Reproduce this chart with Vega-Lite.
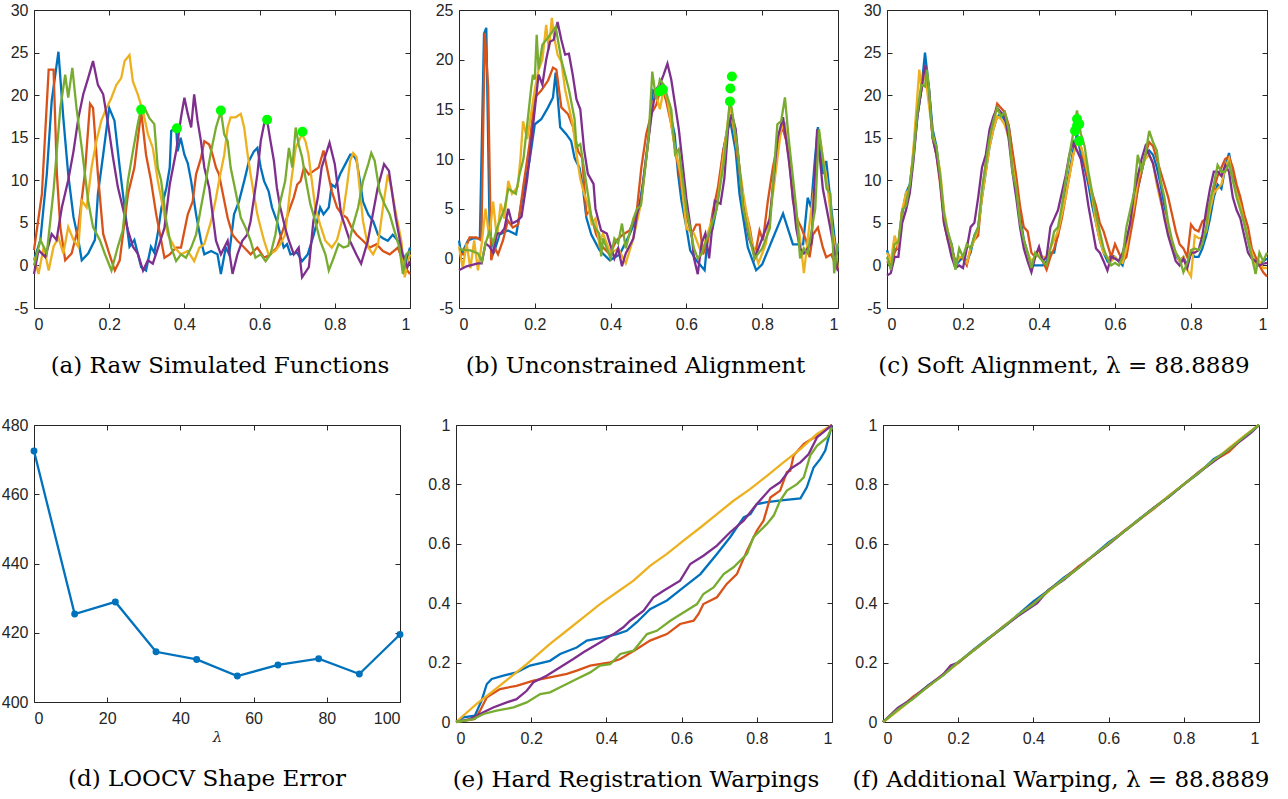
{
"$schema": "https://vega.github.io/schema/vega-lite/v6.json",
"padding": {"left": 0, "top": 1, "right": 0, "bottom": 0},
"config": {
  "view": {"stroke": "#262626", "strokeWidth": 1},
  "axis": {"grid": false, "domain": false, "labelFont": "Liberation Sans", "labelFontSize": 16, "labelColor": "#262626", "tickColor": "#262626", "tickSize": -5, "tickWidth": 1},
  "axisX": {"labelPadding": 13},
  "axisY": {"labelPadding": 11},
  "title": {"font": "DejaVu Serif", "fontSize": 23, "fontWeight": "normal", "color": "#000000"}
},
"datasets": {
"a": [
{"s":1,"x":0,"y":0.6},{"s":1,"x":0.017,"y":3},{"s":1,"x":0.034,"y":10.7},{"s":1,"x":0.047,"y":19.3},{"s":1,"x":0.065,"y":25.1},{"s":1,"x":0.078,"y":17.3},{"s":1,"x":0.091,"y":10.7},{"s":1,"x":0.105,"y":5.7},{"s":1,"x":0.118,"y":3},{"s":1,"x":0.127,"y":0.6},{"s":1,"x":0.144,"y":1.4},{"s":1,"x":0.162,"y":3},{"s":1,"x":0.17,"y":8.4},{"s":1,"x":0.184,"y":13},{"s":1,"x":0.2,"y":18.5},{"s":1,"x":0.214,"y":17},{"s":1,"x":0.228,"y":11.5},{"s":1,"x":0.241,"y":6.8},{"s":1,"x":0.254,"y":2.2},{"s":1,"x":0.267,"y":3},{"s":1,"x":0.285,"y":-0.2},{"s":1,"x":0.298,"y":-0.6},{"s":1,"x":0.311,"y":2.2},{"s":1,"x":0.32,"y":1.5},{"s":1,"x":0.33,"y":4},{"s":1,"x":0.339,"y":6.8},{"s":1,"x":0.352,"y":9.1},{"s":1,"x":0.361,"y":11.5},{"s":1,"x":0.365,"y":15.8},{"s":1,"x":0.378,"y":16.2},{"s":1,"x":0.382,"y":13.4},{"s":1,"x":0.39,"y":15},{"s":1,"x":0.4,"y":13},{"s":1,"x":0.409,"y":12},{"s":1,"x":0.418,"y":9.9},{"s":1,"x":0.431,"y":6},{"s":1,"x":0.444,"y":2.9},{"s":1,"x":0.453,"y":1.3},{"s":1,"x":0.471,"y":1.7},{"s":1,"x":0.488,"y":1.3},{"s":1,"x":0.497,"y":-1},{"s":1,"x":0.51,"y":2.1},{"s":1,"x":0.519,"y":1.3},{"s":1,"x":0.532,"y":6},{"s":1,"x":0.545,"y":7.5},{"s":1,"x":0.559,"y":9.9},{"s":1,"x":0.572,"y":12.3},{"s":1,"x":0.585,"y":13.4},{"s":1,"x":0.594,"y":13.8},{"s":1,"x":0.603,"y":11.5},{"s":1,"x":0.612,"y":9.9},{"s":1,"x":0.624,"y":8.7},{"s":1,"x":0.633,"y":6.8},{"s":1,"x":0.646,"y":5.2},{"s":1,"x":0.664,"y":2.1},{"s":1,"x":0.673,"y":2.5},{"s":1,"x":0.682,"y":1.3},{"s":1,"x":0.7,"y":1.5},{"s":1,"x":0.713,"y":0.5},{"s":1,"x":0.728,"y":1.3},{"s":1,"x":0.744,"y":3.6},{"s":1,"x":0.753,"y":5.2},{"s":1,"x":0.761,"y":6.8},{"s":1,"x":0.77,"y":6},{"s":1,"x":0.784,"y":6.8},{"s":1,"x":0.792,"y":9.5},{"s":1,"x":0.801,"y":9.2},{"s":1,"x":0.814,"y":10.7},{"s":1,"x":0.828,"y":11.9},{"s":1,"x":0.841,"y":13},{"s":1,"x":0.849,"y":13},{"s":1,"x":0.858,"y":12.3},{"s":1,"x":0.867,"y":9.9},{"s":1,"x":0.875,"y":7.5},{"s":1,"x":0.889,"y":6},{"s":1,"x":0.902,"y":5.2},{"s":1,"x":0.915,"y":3.6},{"s":1,"x":0.928,"y":3.2},{"s":1,"x":0.941,"y":2.9},{"s":1,"x":0.954,"y":3.6},{"s":1,"x":0.968,"y":2.9},{"s":1,"x":0.981,"y":1.3},{"s":1,"x":0.99,"y":0.5},{"s":1,"x":1,"y":2.1},
{"s":2,"x":0,"y":1.8},{"s":2,"x":0.021,"y":8.4},{"s":2,"x":0.039,"y":23},{"s":2,"x":0.052,"y":23},{"s":2,"x":0.061,"y":10.7},{"s":2,"x":0.07,"y":4.5},{"s":2,"x":0.083,"y":0.6},{"s":2,"x":0.1,"y":1.4},{"s":2,"x":0.118,"y":4.5},{"s":2,"x":0.135,"y":10.7},{"s":2,"x":0.149,"y":19},{"s":2,"x":0.157,"y":18.5},{"s":2,"x":0.17,"y":10.7},{"s":2,"x":0.184,"y":3.7},{"s":2,"x":0.2,"y":1.4},{"s":2,"x":0.215,"y":-0.6},{"s":2,"x":0.228,"y":0.6},{"s":2,"x":0.25,"y":8.4},{"s":2,"x":0.267,"y":11.5},{"s":2,"x":0.285,"y":18.1},{"s":2,"x":0.298,"y":13},{"s":2,"x":0.311,"y":10},{"s":2,"x":0.325,"y":6},{"s":2,"x":0.338,"y":3},{"s":2,"x":0.347,"y":0.9},{"s":2,"x":0.361,"y":1.3},{"s":2,"x":0.378,"y":2.1},{"s":2,"x":0.391,"y":2.1},{"s":2,"x":0.409,"y":6},{"s":2,"x":0.422,"y":7.5},{"s":2,"x":0.431,"y":10.7},{"s":2,"x":0.444,"y":12.6},{"s":2,"x":0.453,"y":14.6},{"s":2,"x":0.466,"y":14.2},{"s":2,"x":0.475,"y":13},{"s":2,"x":0.484,"y":11.5},{"s":2,"x":0.492,"y":10.7},{"s":2,"x":0.501,"y":8.7},{"s":2,"x":0.515,"y":5.6},{"s":2,"x":0.528,"y":3.6},{"s":2,"x":0.541,"y":2.9},{"s":2,"x":0.559,"y":2.1},{"s":2,"x":0.576,"y":1.3},{"s":2,"x":0.594,"y":2.1},{"s":2,"x":0.612,"y":0.9},{"s":2,"x":0.629,"y":1.3},{"s":2,"x":0.646,"y":2.1},{"s":2,"x":0.664,"y":4.4},{"s":2,"x":0.678,"y":6.4},{"s":2,"x":0.691,"y":8},{"s":2,"x":0.7,"y":9.5},{"s":2,"x":0.709,"y":9.9},{"s":2,"x":0.718,"y":11.5},{"s":2,"x":0.731,"y":10.7},{"s":2,"x":0.744,"y":11.1},{"s":2,"x":0.757,"y":11.5},{"s":2,"x":0.77,"y":13.5},{"s":2,"x":0.779,"y":11.5},{"s":2,"x":0.792,"y":8.7},{"s":2,"x":0.806,"y":6.8},{"s":2,"x":0.819,"y":6},{"s":2,"x":0.832,"y":5.6},{"s":2,"x":0.845,"y":4.4},{"s":2,"x":0.858,"y":3.6},{"s":2,"x":0.875,"y":2.9},{"s":2,"x":0.893,"y":2.1},{"s":2,"x":0.911,"y":2.5},{"s":2,"x":0.928,"y":1.7},{"s":2,"x":0.946,"y":1.3},{"s":2,"x":0.968,"y":2.1},{"s":2,"x":0.986,"y":-0.2},{"s":2,"x":1,"y":-1},
{"s":3,"x":0,"y":1},{"s":3,"x":0.012,"y":-1},{"s":3,"x":0.026,"y":2.2},{"s":3,"x":0.039,"y":-0.6},{"s":3,"x":0.052,"y":2.2},{"s":3,"x":0.065,"y":3.3},{"s":3,"x":0.078,"y":1.4},{"s":3,"x":0.091,"y":4.5},{"s":3,"x":0.105,"y":3},{"s":3,"x":0.118,"y":2.2},{"s":3,"x":0.127,"y":7.6},{"s":3,"x":0.14,"y":6.8},{"s":3,"x":0.153,"y":11.5},{"s":3,"x":0.166,"y":14.6},{"s":3,"x":0.179,"y":17},{"s":3,"x":0.193,"y":18.5},{"s":3,"x":0.206,"y":19.7},{"s":3,"x":0.219,"y":21.2},{"s":3,"x":0.232,"y":22},{"s":3,"x":0.241,"y":24},{"s":3,"x":0.254,"y":24.7},{"s":3,"x":0.263,"y":21.6},{"s":3,"x":0.276,"y":20.1},{"s":3,"x":0.29,"y":18.1},{"s":3,"x":0.303,"y":15.4},{"s":3,"x":0.316,"y":13.8},{"s":3,"x":0.329,"y":10},{"s":3,"x":0.343,"y":6.8},{"s":3,"x":0.356,"y":3.6},{"s":3,"x":0.374,"y":2.1},{"s":3,"x":0.391,"y":1.3},{"s":3,"x":0.409,"y":1.7},{"s":3,"x":0.426,"y":0.5},{"s":3,"x":0.44,"y":2.1},{"s":3,"x":0.453,"y":2.5},{"s":3,"x":0.471,"y":5.2},{"s":3,"x":0.484,"y":7.9},{"s":3,"x":0.492,"y":9.9},{"s":3,"x":0.506,"y":13},{"s":3,"x":0.515,"y":16.2},{"s":3,"x":0.523,"y":17.4},{"s":3,"x":0.536,"y":17.4},{"s":3,"x":0.55,"y":17.8},{"s":3,"x":0.559,"y":16.2},{"s":3,"x":0.567,"y":13.4},{"s":3,"x":0.576,"y":10.7},{"s":3,"x":0.585,"y":8.3},{"s":3,"x":0.594,"y":6},{"s":3,"x":0.603,"y":4.4},{"s":3,"x":0.612,"y":2.9},{"s":3,"x":0.624,"y":1.3},{"s":3,"x":0.642,"y":1.7},{"s":3,"x":0.655,"y":2.5},{"s":3,"x":0.668,"y":3.6},{"s":3,"x":0.682,"y":9.2},{"s":3,"x":0.696,"y":13.8},{"s":3,"x":0.704,"y":14.6},{"s":3,"x":0.713,"y":15.4},{"s":3,"x":0.722,"y":14.6},{"s":3,"x":0.73,"y":13},{"s":3,"x":0.739,"y":9.9},{"s":3,"x":0.748,"y":6.8},{"s":3,"x":0.761,"y":4.8},{"s":3,"x":0.775,"y":2.9},{"s":3,"x":0.792,"y":2.1},{"s":3,"x":0.806,"y":3},{"s":3,"x":0.819,"y":5.2},{"s":3,"x":0.832,"y":9.2},{"s":3,"x":0.841,"y":12.3},{"s":3,"x":0.849,"y":13.2},{"s":3,"x":0.858,"y":12.7},{"s":3,"x":0.867,"y":8.7},{"s":3,"x":0.875,"y":5.2},{"s":3,"x":0.889,"y":2.1},{"s":3,"x":0.902,"y":1.3},{"s":3,"x":0.915,"y":2.5},{"s":3,"x":0.928,"y":6.8},{"s":3,"x":0.941,"y":10.7},{"s":3,"x":0.95,"y":9.2},{"s":3,"x":0.963,"y":6},{"s":3,"x":0.977,"y":2.9},{"s":3,"x":0.986,"y":-1.4},{"s":3,"x":0.995,"y":0.5},{"s":3,"x":1,"y":1.3},
{"s":4,"x":0,"y":-1},{"s":4,"x":0.012,"y":1.8},{"s":4,"x":0.03,"y":1},{"s":4,"x":0.047,"y":3.7},{"s":4,"x":0.06,"y":3},{"s":4,"x":0.074,"y":6.8},{"s":4,"x":0.091,"y":10},{"s":4,"x":0.105,"y":13.4},{"s":4,"x":0.118,"y":17.3},{"s":4,"x":0.131,"y":20.1},{"s":4,"x":0.144,"y":22},{"s":4,"x":0.157,"y":24},{"s":4,"x":0.17,"y":21.2},{"s":4,"x":0.184,"y":20.1},{"s":4,"x":0.197,"y":16.6},{"s":4,"x":0.21,"y":12.7},{"s":4,"x":0.223,"y":9.2},{"s":4,"x":0.236,"y":6.8},{"s":4,"x":0.25,"y":4.1},{"s":4,"x":0.263,"y":2.2},{"s":4,"x":0.276,"y":1.4},{"s":4,"x":0.29,"y":-0.6},{"s":4,"x":0.303,"y":0.6},{"s":4,"x":0.316,"y":0.2},{"s":4,"x":0.33,"y":2.1},{"s":4,"x":0.347,"y":4.4},{"s":4,"x":0.361,"y":9.5},{"s":4,"x":0.378,"y":13.4},{"s":4,"x":0.391,"y":17.4},{"s":4,"x":0.4,"y":19.7},{"s":4,"x":0.409,"y":17.8},{"s":4,"x":0.418,"y":16.2},{"s":4,"x":0.426,"y":20.1},{"s":4,"x":0.435,"y":17},{"s":4,"x":0.444,"y":14.6},{"s":4,"x":0.453,"y":11.5},{"s":4,"x":0.466,"y":9.1},{"s":4,"x":0.475,"y":6},{"s":4,"x":0.484,"y":2.9},{"s":4,"x":0.497,"y":1.3},{"s":4,"x":0.515,"y":2.9},{"s":4,"x":0.528,"y":-1},{"s":4,"x":0.541,"y":1.3},{"s":4,"x":0.554,"y":2.9},{"s":4,"x":0.567,"y":3.6},{"s":4,"x":0.576,"y":5.2},{"s":4,"x":0.585,"y":7.9},{"s":4,"x":0.594,"y":10.7},{"s":4,"x":0.603,"y":14.6},{"s":4,"x":0.612,"y":16.6},{"s":4,"x":0.62,"y":17},{"s":4,"x":0.629,"y":14.6},{"s":4,"x":0.638,"y":12.3},{"s":4,"x":0.646,"y":9.1},{"s":4,"x":0.655,"y":6.8},{"s":4,"x":0.668,"y":4.4},{"s":4,"x":0.678,"y":2.9},{"s":4,"x":0.691,"y":1.3},{"s":4,"x":0.704,"y":2.1},{"s":4,"x":0.713,"y":-1.4},{"s":4,"x":0.731,"y":-0.2},{"s":4,"x":0.743,"y":5.2},{"s":4,"x":0.755,"y":8},{"s":4,"x":0.765,"y":11.5},{"s":4,"x":0.786,"y":14.4},{"s":4,"x":0.8,"y":11.9},{"s":4,"x":0.817,"y":6},{"s":4,"x":0.84,"y":2.9},{"s":4,"x":0.857,"y":1.3},{"s":4,"x":0.87,"y":0.2},{"s":4,"x":0.888,"y":2.9},{"s":4,"x":0.914,"y":9.1},{"s":4,"x":0.931,"y":11.9},{"s":4,"x":0.944,"y":11.1},{"s":4,"x":0.962,"y":5.6},{"s":4,"x":0.98,"y":1.3},{"s":4,"x":0.993,"y":-0.2},{"s":4,"x":1,"y":0.5},
{"s":5,"x":0,"y":0},{"s":5,"x":0.017,"y":3},{"s":5,"x":0.034,"y":1.4},{"s":5,"x":0.052,"y":8.8},{"s":5,"x":0.07,"y":18.5},{"s":5,"x":0.083,"y":22.4},{"s":5,"x":0.091,"y":19.7},{"s":5,"x":0.102,"y":23.2},{"s":5,"x":0.113,"y":18.5},{"s":5,"x":0.127,"y":13.8},{"s":5,"x":0.144,"y":7.6},{"s":5,"x":0.157,"y":4.5},{"s":5,"x":0.175,"y":3},{"s":5,"x":0.188,"y":1.4},{"s":5,"x":0.206,"y":-0.6},{"s":5,"x":0.223,"y":2.2},{"s":5,"x":0.236,"y":4.1},{"s":5,"x":0.25,"y":10},{"s":5,"x":0.263,"y":13.4},{"s":5,"x":0.276,"y":16.6},{"s":5,"x":0.285,"y":18.5},{"s":5,"x":0.294,"y":18.5},{"s":5,"x":0.307,"y":17.3},{"s":5,"x":0.32,"y":16.6},{"s":5,"x":0.329,"y":11.5},{"s":5,"x":0.338,"y":10},{"s":5,"x":0.343,"y":8.3},{"s":5,"x":0.352,"y":5.2},{"s":5,"x":0.365,"y":2.1},{"s":5,"x":0.378,"y":0.5},{"s":5,"x":0.391,"y":1.3},{"s":5,"x":0.404,"y":0.9},{"s":5,"x":0.418,"y":2.1},{"s":5,"x":0.431,"y":3.6},{"s":5,"x":0.444,"y":6.8},{"s":5,"x":0.457,"y":9.9},{"s":5,"x":0.471,"y":13.4},{"s":5,"x":0.484,"y":16.2},{"s":5,"x":0.497,"y":18.1},{"s":5,"x":0.506,"y":15.4},{"s":5,"x":0.515,"y":14.6},{"s":5,"x":0.523,"y":11.5},{"s":5,"x":0.536,"y":8.7},{"s":5,"x":0.55,"y":5.6},{"s":5,"x":0.563,"y":4.4},{"s":5,"x":0.576,"y":2.9},{"s":5,"x":0.589,"y":0.9},{"s":5,"x":0.603,"y":1.3},{"s":5,"x":0.616,"y":0.5},{"s":5,"x":0.629,"y":1.3},{"s":5,"x":0.642,"y":3.6},{"s":5,"x":0.655,"y":7.5},{"s":5,"x":0.668,"y":9.9},{"s":5,"x":0.678,"y":13.8},{"s":5,"x":0.687,"y":11.5},{"s":5,"x":0.696,"y":16.2},{"s":5,"x":0.704,"y":14.2},{"s":5,"x":0.713,"y":12.7},{"s":5,"x":0.722,"y":10.3},{"s":5,"x":0.735,"y":7.2},{"s":5,"x":0.748,"y":5.2},{"s":5,"x":0.761,"y":2.9},{"s":5,"x":0.775,"y":1.3},{"s":5,"x":0.784,"y":-0.6},{"s":5,"x":0.797,"y":0.9},{"s":5,"x":0.81,"y":2.5},{"s":5,"x":0.823,"y":2.1},{"s":5,"x":0.836,"y":2.3},{"s":5,"x":0.849,"y":4.8},{"s":5,"x":0.862,"y":6.8},{"s":5,"x":0.875,"y":9.9},{"s":5,"x":0.889,"y":11.9},{"s":5,"x":0.897,"y":13.2},{"s":5,"x":0.906,"y":12.3},{"s":5,"x":0.919,"y":8.7},{"s":5,"x":0.932,"y":7.2},{"s":5,"x":0.946,"y":6},{"s":5,"x":0.959,"y":4},{"s":5,"x":0.972,"y":2.1},{"s":5,"x":0.981,"y":-1},{"s":5,"x":0.99,"y":1.3},{"s":5,"x":1,"y":1.7}
],
"adots": [{"x":0.285,"y":18.3},{"x":0.38,"y":16.1},{"x":0.497,"y":18.2},{"x":0.62,"y":17.1},{"x":0.714,"y":15.7}],
"b": [
{"s":1,"x":0,"y":1.8},{"s":1,"x":0.006,"y":0.4},{"s":1,"x":0.024,"y":1.8},{"s":1,"x":0.037,"y":2},{"s":1,"x":0.055,"y":2},{"s":1,"x":0.066,"y":22.6},{"s":1,"x":0.072,"y":23.2},{"s":1,"x":0.081,"y":2.4},{"s":1,"x":0.094,"y":0.8},{"s":1,"x":0.107,"y":2.4},{"s":1,"x":0.129,"y":2.8},{"s":1,"x":0.151,"y":2.4},{"s":1,"x":0.169,"y":6.5},{"s":1,"x":0.186,"y":9.8},{"s":1,"x":0.2,"y":13.5},{"s":1,"x":0.217,"y":14},{"s":1,"x":0.235,"y":15.2},{"s":1,"x":0.248,"y":16.2},{"s":1,"x":0.255,"y":18.7},{"s":1,"x":0.267,"y":13.2},{"s":1,"x":0.283,"y":12.5},{"s":1,"x":0.296,"y":11.8},{"s":1,"x":0.305,"y":10.1},{"s":1,"x":0.318,"y":9.1},{"s":1,"x":0.327,"y":7.1},{"s":1,"x":0.336,"y":4.1},{"s":1,"x":0.349,"y":2.4},{"s":1,"x":0.371,"y":0.8},{"s":1,"x":0.398,"y":-0.2},{"s":1,"x":0.424,"y":0.4},{"s":1,"x":0.45,"y":2.4},{"s":1,"x":0.472,"y":4.4},{"s":1,"x":0.485,"y":7.5},{"s":1,"x":0.499,"y":11.8},{"s":1,"x":0.512,"y":16.9},{"s":1,"x":0.525,"y":16.5},{"s":1,"x":0.538,"y":17.2},{"s":1,"x":0.556,"y":14.8},{"s":1,"x":0.569,"y":12.5},{"s":1,"x":0.578,"y":8.5},{"s":1,"x":0.587,"y":5.8},{"s":1,"x":0.6,"y":3.1},{"s":1,"x":0.61,"y":0.8},{"s":1,"x":0.626,"y":-0.2},{"s":1,"x":0.648,"y":-1.2},{"s":1,"x":0.657,"y":2.4},{"s":1,"x":0.668,"y":2.8},{"s":1,"x":0.68,"y":5.1},{"s":1,"x":0.697,"y":10.8},{"s":1,"x":0.714,"y":14.2},{"s":1,"x":0.73,"y":10.8},{"s":1,"x":0.74,"y":6.5},{"s":1,"x":0.762,"y":1.1},{"s":1,"x":0.784,"y":-1.2},{"s":1,"x":0.8,"y":-0.6},{"s":1,"x":0.855,"y":4.5},{"s":1,"x":0.881,"y":1.4},{"s":1,"x":0.908,"y":1.4},{"s":1,"x":0.92,"y":6.1},{"s":1,"x":0.929,"y":5.1},{"s":1,"x":0.938,"y":9.5},{"s":1,"x":0.947,"y":13.2},{"s":1,"x":0.96,"y":8.5},{"s":1,"x":0.969,"y":9.8},{"s":1,"x":0.982,"y":5.1},{"s":1,"x":0.996,"y":0.4},{"s":1,"x":1,"y":1},
{"s":2,"x":0,"y":0.5},{"s":2,"x":0.011,"y":0.4},{"s":2,"x":0.028,"y":2.1},{"s":2,"x":0.046,"y":2.1},{"s":2,"x":0.059,"y":1.8},{"s":2,"x":0.068,"y":22.7},{"s":2,"x":0.077,"y":17.2},{"s":2,"x":0.085,"y":-0.2},{"s":2,"x":0.094,"y":1.1},{"s":2,"x":0.103,"y":0.4},{"s":2,"x":0.116,"y":1.8},{"s":2,"x":0.129,"y":3.8},{"s":2,"x":0.142,"y":3.1},{"s":2,"x":0.156,"y":3.4},{"s":2,"x":0.169,"y":7.1},{"s":2,"x":0.186,"y":11.5},{"s":2,"x":0.2,"y":16.2},{"s":2,"x":0.217,"y":16.9},{"s":2,"x":0.235,"y":17.9},{"s":2,"x":0.248,"y":19.2},{"s":2,"x":0.257,"y":19},{"s":2,"x":0.27,"y":15.2},{"s":2,"x":0.288,"y":14.5},{"s":2,"x":0.301,"y":13.2},{"s":2,"x":0.314,"y":10.8},{"s":2,"x":0.325,"y":10.1},{"s":2,"x":0.336,"y":4.4},{"s":2,"x":0.345,"y":4.8},{"s":2,"x":0.362,"y":2.4},{"s":2,"x":0.38,"y":1.1},{"s":2,"x":0.398,"y":0.4},{"s":2,"x":0.415,"y":1.8},{"s":2,"x":0.433,"y":2.4},{"s":2,"x":0.45,"y":2.8},{"s":2,"x":0.468,"y":4.4},{"s":2,"x":0.481,"y":9.1},{"s":2,"x":0.494,"y":12.5},{"s":2,"x":0.507,"y":14.5},{"s":2,"x":0.521,"y":15.5},{"s":2,"x":0.534,"y":17.5},{"s":2,"x":0.547,"y":15.8},{"s":2,"x":0.56,"y":13.5},{"s":2,"x":0.573,"y":10.5},{"s":2,"x":0.587,"y":7.1},{"s":2,"x":0.6,"y":4.4},{"s":2,"x":0.613,"y":2.4},{"s":2,"x":0.626,"y":3.4},{"s":2,"x":0.635,"y":3.4},{"s":2,"x":0.644,"y":0.4},{"s":2,"x":0.657,"y":1.8},{"s":2,"x":0.67,"y":4.8},{"s":2,"x":0.683,"y":7.1},{"s":2,"x":0.697,"y":10.8},{"s":2,"x":0.71,"y":13.2},{"s":2,"x":0.719,"y":14.5},{"s":2,"x":0.727,"y":12.5},{"s":2,"x":0.741,"y":8.5},{"s":2,"x":0.754,"y":5.1},{"s":2,"x":0.767,"y":3.1},{"s":2,"x":0.78,"y":0.1},{"s":2,"x":0.793,"y":2.8},{"s":2,"x":0.802,"y":1.8},{"s":2,"x":0.815,"y":5.8},{"s":2,"x":0.828,"y":9.1},{"s":2,"x":0.842,"y":11.8},{"s":2,"x":0.853,"y":13.2},{"s":2,"x":0.864,"y":11.8},{"s":2,"x":0.872,"y":9.8},{"s":2,"x":0.881,"y":5.8},{"s":2,"x":0.894,"y":3.8},{"s":2,"x":0.903,"y":3.1},{"s":2,"x":0.916,"y":1.8},{"s":2,"x":0.925,"y":0.1},{"s":2,"x":0.934,"y":2.4},{"s":2,"x":0.947,"y":3.1},{"s":2,"x":0.96,"y":1.1},{"s":2,"x":0.969,"y":0.1},{"s":2,"x":0.982,"y":0.4},{"s":2,"x":1,"y":-1.2},
{"s":3,"x":0,"y":1.2},{"s":3,"x":0.01,"y":-1},{"s":3,"x":0.02,"y":1.5},{"s":3,"x":0.03,"y":-1},{"s":3,"x":0.04,"y":1.8},{"s":3,"x":0.05,"y":-1.2},{"s":3,"x":0.06,"y":1.5},{"s":3,"x":0.07,"y":5},{"s":3,"x":0.08,"y":2},{"s":3,"x":0.09,"y":5.7},{"s":3,"x":0.1,"y":2},{"s":3,"x":0.11,"y":5.5},{"s":3,"x":0.12,"y":4},{"s":3,"x":0.13,"y":7.8},{"s":3,"x":0.14,"y":6.5},{"s":3,"x":0.155,"y":7.2},{"s":3,"x":0.162,"y":10},{"s":3,"x":0.169,"y":13.8},{"s":3,"x":0.18,"y":12},{"s":3,"x":0.2,"y":17},{"s":3,"x":0.21,"y":19},{"s":3,"x":0.22,"y":20},{"s":3,"x":0.23,"y":23.5},{"s":3,"x":0.237,"y":21},{"s":3,"x":0.245,"y":24.2},{"s":3,"x":0.25,"y":22.5},{"s":3,"x":0.26,"y":20.5},{"s":3,"x":0.27,"y":19.8},{"s":3,"x":0.28,"y":17},{"s":3,"x":0.3,"y":13.5},{"s":3,"x":0.31,"y":10.5},{"s":3,"x":0.32,"y":8},{"s":3,"x":0.33,"y":6.5},{"s":3,"x":0.34,"y":5.5},{"s":3,"x":0.35,"y":3.5},{"s":3,"x":0.36,"y":4},{"s":3,"x":0.37,"y":1.5},{"s":3,"x":0.38,"y":2.5},{"s":3,"x":0.4,"y":0.5},{"s":3,"x":0.42,"y":1},{"s":3,"x":0.44,"y":-0.5},{"s":3,"x":0.46,"y":2},{"s":3,"x":0.48,"y":5.5},{"s":3,"x":0.5,"y":12},{"s":3,"x":0.51,"y":15.5},{"s":3,"x":0.52,"y":16.5},{"s":3,"x":0.53,"y":15},{"s":3,"x":0.54,"y":17},{"s":3,"x":0.55,"y":16},{"s":3,"x":0.57,"y":11},{"s":3,"x":0.585,"y":8.5},{"s":3,"x":0.6,"y":3},{"s":3,"x":0.62,"y":2.5},{"s":3,"x":0.64,"y":0.5},{"s":3,"x":0.66,"y":3},{"s":3,"x":0.68,"y":5},{"s":3,"x":0.7,"y":11},{"s":3,"x":0.715,"y":15.5},{"s":3,"x":0.73,"y":12},{"s":3,"x":0.75,"y":6.5},{"s":3,"x":0.77,"y":2},{"s":3,"x":0.79,"y":-0.5},{"s":3,"x":0.81,"y":1.5},{"s":3,"x":0.83,"y":7},{"s":3,"x":0.85,"y":13},{"s":3,"x":0.86,"y":13.5},{"s":3,"x":0.87,"y":10},{"s":3,"x":0.89,"y":4.5},{"s":3,"x":0.9,"y":2},{"s":3,"x":0.91,"y":-1.5},{"s":3,"x":0.925,"y":3.5},{"s":3,"x":0.94,"y":8},{"s":3,"x":0.95,"y":12.5},{"s":3,"x":0.97,"y":8},{"s":3,"x":0.985,"y":3},{"s":3,"x":1,"y":-1},
{"s":4,"x":0,"y":-1.2},{"s":4,"x":0.02,"y":-0.8},{"s":4,"x":0.05,"y":-0.5},{"s":4,"x":0.06,"y":-0.5},{"s":4,"x":0.07,"y":1.5},{"s":4,"x":0.08,"y":1.2},{"s":4,"x":0.09,"y":0.6},{"s":4,"x":0.1,"y":2.5},{"s":4,"x":0.11,"y":2.5},{"s":4,"x":0.12,"y":3},{"s":4,"x":0.13,"y":5},{"s":4,"x":0.14,"y":3.5},{"s":4,"x":0.155,"y":3.8},{"s":4,"x":0.165,"y":4.2},{"s":4,"x":0.18,"y":8},{"s":4,"x":0.2,"y":15},{"s":4,"x":0.21,"y":18.5},{"s":4,"x":0.22,"y":17.5},{"s":4,"x":0.23,"y":20},{"s":4,"x":0.24,"y":21.8},{"s":4,"x":0.25,"y":22},{"s":4,"x":0.26,"y":23.8},{"s":4,"x":0.27,"y":22},{"s":4,"x":0.28,"y":20.5},{"s":4,"x":0.29,"y":20.6},{"s":4,"x":0.3,"y":18.5},{"s":4,"x":0.31,"y":16},{"s":4,"x":0.32,"y":15},{"s":4,"x":0.33,"y":11},{"s":4,"x":0.34,"y":8.5},{"s":4,"x":0.355,"y":7.5},{"s":4,"x":0.36,"y":5},{"s":4,"x":0.37,"y":3.5},{"s":4,"x":0.375,"y":2.8},{"s":4,"x":0.39,"y":2.5},{"s":4,"x":0.41,"y":0},{"s":4,"x":0.42,"y":1},{"s":4,"x":0.43,"y":-0.8},{"s":4,"x":0.44,"y":0.5},{"s":4,"x":0.46,"y":2},{"s":4,"x":0.47,"y":4.5},{"s":4,"x":0.48,"y":5.8},{"s":4,"x":0.5,"y":12},{"s":4,"x":0.51,"y":15},{"s":4,"x":0.52,"y":17},{"s":4,"x":0.53,"y":17.5},{"s":4,"x":0.54,"y":18.5},{"s":4,"x":0.55,"y":19.6},{"s":4,"x":0.56,"y":18},{"s":4,"x":0.58,"y":13},{"s":4,"x":0.6,"y":6},{"s":4,"x":0.615,"y":2},{"s":4,"x":0.62,"y":0},{"s":4,"x":0.63,"y":-1.6},{"s":4,"x":0.64,"y":1.5},{"s":4,"x":0.65,"y":2.5},{"s":4,"x":0.66,"y":0},{"s":4,"x":0.675,"y":5.8},{"s":4,"x":0.69,"y":5.5},{"s":4,"x":0.7,"y":8},{"s":4,"x":0.71,"y":13},{"s":4,"x":0.72,"y":14.5},{"s":4,"x":0.73,"y":13},{"s":4,"x":0.74,"y":9},{"s":4,"x":0.75,"y":5},{"s":4,"x":0.765,"y":2},{"s":4,"x":0.775,"y":1},{"s":4,"x":0.78,"y":0},{"s":4,"x":0.8,"y":2},{"s":4,"x":0.82,"y":4},{"s":4,"x":0.84,"y":12},{"s":4,"x":0.855,"y":14.2},{"s":4,"x":0.87,"y":10},{"s":4,"x":0.89,"y":3},{"s":4,"x":0.9,"y":1},{"s":4,"x":0.91,"y":0.5},{"s":4,"x":0.93,"y":1.5},{"s":4,"x":0.945,"y":13},{"s":4,"x":0.96,"y":7},{"s":4,"x":0.98,"y":3},{"s":4,"x":1,"y":-1.3},
{"s":5,"x":0,"y":0.9},{"s":5,"x":0.03,"y":0.8},{"s":5,"x":0.05,"y":0.5},{"s":5,"x":0.06,"y":-0.3},{"s":5,"x":0.07,"y":1.5},{"s":5,"x":0.08,"y":2.7},{"s":5,"x":0.09,"y":1.5},{"s":5,"x":0.1,"y":3},{"s":5,"x":0.12,"y":5},{"s":5,"x":0.13,"y":7},{"s":5,"x":0.15,"y":6.5},{"s":5,"x":0.16,"y":8.5},{"s":5,"x":0.17,"y":10},{"s":5,"x":0.19,"y":17},{"s":5,"x":0.195,"y":18.5},{"s":5,"x":0.2,"y":18},{"s":5,"x":0.205,"y":22.5},{"s":5,"x":0.21,"y":19},{"s":5,"x":0.22,"y":21.5},{"s":5,"x":0.24,"y":22.5},{"s":5,"x":0.255,"y":23.3},{"s":5,"x":0.27,"y":20},{"s":5,"x":0.29,"y":17},{"s":5,"x":0.305,"y":14},{"s":5,"x":0.31,"y":11.2},{"s":5,"x":0.32,"y":11.5},{"s":5,"x":0.33,"y":9},{"s":5,"x":0.34,"y":6.5},{"s":5,"x":0.35,"y":4},{"s":5,"x":0.36,"y":3},{"s":5,"x":0.37,"y":2.5},{"s":5,"x":0.375,"y":0.2},{"s":5,"x":0.38,"y":2},{"s":5,"x":0.39,"y":1},{"s":5,"x":0.4,"y":0},{"s":5,"x":0.41,"y":2},{"s":5,"x":0.42,"y":1.5},{"s":5,"x":0.43,"y":3.5},{"s":5,"x":0.44,"y":1},{"s":5,"x":0.46,"y":4},{"s":5,"x":0.47,"y":5},{"s":5,"x":0.48,"y":5.3},{"s":5,"x":0.5,"y":12},{"s":5,"x":0.51,"y":18.8},{"s":5,"x":0.52,"y":16},{"s":5,"x":0.53,"y":18},{"s":5,"x":0.54,"y":17.5},{"s":5,"x":0.56,"y":15},{"s":5,"x":0.57,"y":10.5},{"s":5,"x":0.58,"y":11},{"s":5,"x":0.59,"y":8},{"s":5,"x":0.6,"y":5},{"s":5,"x":0.61,"y":3},{"s":5,"x":0.62,"y":1},{"s":5,"x":0.63,"y":0},{"s":5,"x":0.64,"y":0.5},{"s":5,"x":0.66,"y":2.5},{"s":5,"x":0.68,"y":5},{"s":5,"x":0.7,"y":10},{"s":5,"x":0.715,"y":16},{"s":5,"x":0.72,"y":15},{"s":5,"x":0.735,"y":11},{"s":5,"x":0.75,"y":5},{"s":5,"x":0.77,"y":1.5},{"s":5,"x":0.78,"y":0},{"s":5,"x":0.8,"y":1},{"s":5,"x":0.82,"y":3},{"s":5,"x":0.84,"y":13.5},{"s":5,"x":0.85,"y":13.8},{"s":5,"x":0.86,"y":16.2},{"s":5,"x":0.87,"y":12},{"s":5,"x":0.89,"y":5},{"s":5,"x":0.9,"y":0},{"s":5,"x":0.91,"y":1},{"s":5,"x":0.92,"y":0.5},{"s":5,"x":0.94,"y":5},{"s":5,"x":0.95,"y":13},{"s":5,"x":0.96,"y":10},{"s":5,"x":0.97,"y":7},{"s":5,"x":0.98,"y":6.5},{"s":5,"x":0.99,"y":-1.5},{"s":5,"x":1,"y":1.5}
],
"bdots": [{"x":0.53,"y":16.8},{"x":0.538,"y":17.0},{"x":0.72,"y":18.3},{"x":0.716,"y":17.1},{"x":0.715,"y":15.8}],
"c": [
{"s":1,"x":0,"y":1.8},{"s":1,"x":0.01,"y":0.3},{"s":1,"x":0.02,"y":1.8},{"s":1,"x":0.03,"y":2},{"s":1,"x":0.04,"y":6},{"s":1,"x":0.05,"y":8.5},{"s":1,"x":0.06,"y":9.5},{"s":1,"x":0.07,"y":13},{"s":1,"x":0.08,"y":17.5},{"s":1,"x":0.09,"y":20.5},{"s":1,"x":0.1,"y":25},{"s":1,"x":0.11,"y":21},{"s":1,"x":0.12,"y":16},{"s":1,"x":0.13,"y":14},{"s":1,"x":0.14,"y":10},{"s":1,"x":0.15,"y":6},{"s":1,"x":0.16,"y":3.5},{"s":1,"x":0.17,"y":2.5},{"s":1,"x":0.18,"y":0},{"s":1,"x":0.19,"y":0.5},{"s":1,"x":0.2,"y":1},{"s":1,"x":0.21,"y":0.5},{"s":1,"x":0.22,"y":1.5},{"s":1,"x":0.23,"y":3.5},{"s":1,"x":0.24,"y":4.5},{"s":1,"x":0.25,"y":8},{"s":1,"x":0.26,"y":11},{"s":1,"x":0.27,"y":14},{"s":1,"x":0.28,"y":16},{"s":1,"x":0.29,"y":17.5},{"s":1,"x":0.3,"y":17.8},{"s":1,"x":0.31,"y":17},{"s":1,"x":0.32,"y":16.5},{"s":1,"x":0.33,"y":13},{"s":1,"x":0.34,"y":10},{"s":1,"x":0.35,"y":6},{"s":1,"x":0.36,"y":3},{"s":1,"x":0.37,"y":1.5},{"s":1,"x":0.38,"y":0},{"s":1,"x":0.39,"y":0},{"s":1,"x":0.4,"y":0},{"s":1,"x":0.41,"y":0},{"s":1,"x":0.42,"y":0.5},{"s":1,"x":0.43,"y":1.5},{"s":1,"x":0.44,"y":1.5},{"s":1,"x":0.45,"y":4},{"s":1,"x":0.46,"y":6},{"s":1,"x":0.47,"y":8.5},{"s":1,"x":0.48,"y":11},{"s":1,"x":0.49,"y":13.5},{"s":1,"x":0.5,"y":15.5},{"s":1,"x":0.51,"y":13},{"s":1,"x":0.52,"y":11.5},{"s":1,"x":0.53,"y":9.5},{"s":1,"x":0.54,"y":7},{"s":1,"x":0.55,"y":5},{"s":1,"x":0.56,"y":3},{"s":1,"x":0.57,"y":1.5},{"s":1,"x":0.58,"y":0.5},{"s":1,"x":0.59,"y":1.2},{"s":1,"x":0.6,"y":1},{"s":1,"x":0.61,"y":0.5},{"s":1,"x":0.62,"y":0},{"s":1,"x":0.63,"y":2},{"s":1,"x":0.64,"y":4},{"s":1,"x":0.65,"y":6.5},{"s":1,"x":0.66,"y":9},{"s":1,"x":0.67,"y":11},{"s":1,"x":0.68,"y":13},{"s":1,"x":0.69,"y":13.5},{"s":1,"x":0.7,"y":13},{"s":1,"x":0.71,"y":11.5},{"s":1,"x":0.72,"y":9.5},{"s":1,"x":0.73,"y":7},{"s":1,"x":0.74,"y":4.5},{"s":1,"x":0.75,"y":2.5},{"s":1,"x":0.76,"y":1.2},{"s":1,"x":0.77,"y":0.5},{"s":1,"x":0.78,"y":1},{"s":1,"x":0.79,"y":0},{"s":1,"x":0.8,"y":1.5},{"s":1,"x":0.81,"y":1},{"s":1,"x":0.82,"y":1},{"s":1,"x":0.83,"y":2},{"s":1,"x":0.84,"y":3.5},{"s":1,"x":0.85,"y":5.5},{"s":1,"x":0.86,"y":8},{"s":1,"x":0.87,"y":9.5},{"s":1,"x":0.88,"y":9},{"s":1,"x":0.89,"y":11.5},{"s":1,"x":0.9,"y":13.2},{"s":1,"x":0.91,"y":10.5},{"s":1,"x":0.92,"y":9},{"s":1,"x":0.93,"y":7},{"s":1,"x":0.94,"y":5},{"s":1,"x":0.95,"y":3},{"s":1,"x":0.96,"y":1},{"s":1,"x":0.97,"y":0.5},{"s":1,"x":0.98,"y":0},{"s":1,"x":0.99,"y":0.5},{"s":1,"x":1,"y":0.8},
{"s":2,"x":0,"y":0.5},{"s":2,"x":0.01,"y":0},{"s":2,"x":0.02,"y":1.5},{"s":2,"x":0.03,"y":2.5},{"s":2,"x":0.04,"y":6.5},{"s":2,"x":0.05,"y":7.5},{"s":2,"x":0.06,"y":9},{"s":2,"x":0.07,"y":13.5},{"s":2,"x":0.08,"y":18},{"s":2,"x":0.09,"y":20.5},{"s":2,"x":0.1,"y":23.5},{"s":2,"x":0.11,"y":20},{"s":2,"x":0.12,"y":15},{"s":2,"x":0.13,"y":13},{"s":2,"x":0.14,"y":9.5},{"s":2,"x":0.15,"y":5},{"s":2,"x":0.16,"y":3},{"s":2,"x":0.17,"y":2},{"s":2,"x":0.18,"y":0.5},{"s":2,"x":0.19,"y":1},{"s":2,"x":0.2,"y":0.8},{"s":2,"x":0.21,"y":0},{"s":2,"x":0.22,"y":2},{"s":2,"x":0.23,"y":3},{"s":2,"x":0.24,"y":3.5},{"s":2,"x":0.25,"y":8.5},{"s":2,"x":0.26,"y":12},{"s":2,"x":0.27,"y":15},{"s":2,"x":0.28,"y":17},{"s":2,"x":0.29,"y":19},{"s":2,"x":0.3,"y":18.5},{"s":2,"x":0.31,"y":18},{"s":2,"x":0.32,"y":16.5},{"s":2,"x":0.33,"y":13.5},{"s":2,"x":0.34,"y":10.5},{"s":2,"x":0.35,"y":7},{"s":2,"x":0.36,"y":4.5},{"s":2,"x":0.37,"y":4},{"s":2,"x":0.38,"y":1.5},{"s":2,"x":0.39,"y":1},{"s":2,"x":0.4,"y":2},{"s":2,"x":0.41,"y":0.5},{"s":2,"x":0.42,"y":-0.5},{"s":2,"x":0.43,"y":1},{"s":2,"x":0.44,"y":2},{"s":2,"x":0.45,"y":3.5},{"s":2,"x":0.46,"y":5.5},{"s":2,"x":0.47,"y":8},{"s":2,"x":0.48,"y":10.5},{"s":2,"x":0.49,"y":13},{"s":2,"x":0.5,"y":14.5},{"s":2,"x":0.51,"y":14},{"s":2,"x":0.52,"y":12},{"s":2,"x":0.53,"y":10},{"s":2,"x":0.54,"y":8.5},{"s":2,"x":0.55,"y":7},{"s":2,"x":0.56,"y":5},{"s":2,"x":0.57,"y":4},{"s":2,"x":0.58,"y":2.5},{"s":2,"x":0.59,"y":1},{"s":2,"x":0.6,"y":2.5},{"s":2,"x":0.61,"y":1.5},{"s":2,"x":0.62,"y":0.5},{"s":2,"x":0.63,"y":1},{"s":2,"x":0.64,"y":3.5},{"s":2,"x":0.65,"y":6},{"s":2,"x":0.66,"y":9},{"s":2,"x":0.67,"y":11},{"s":2,"x":0.68,"y":13},{"s":2,"x":0.69,"y":14.5},{"s":2,"x":0.7,"y":14},{"s":2,"x":0.71,"y":12.5},{"s":2,"x":0.72,"y":11},{"s":2,"x":0.73,"y":9.5},{"s":2,"x":0.74,"y":8},{"s":2,"x":0.75,"y":6},{"s":2,"x":0.76,"y":4},{"s":2,"x":0.77,"y":2.5},{"s":2,"x":0.78,"y":2},{"s":2,"x":0.79,"y":1},{"s":2,"x":0.8,"y":4.8},{"s":2,"x":0.81,"y":4.2},{"s":2,"x":0.82,"y":4},{"s":2,"x":0.83,"y":5.2},{"s":2,"x":0.84,"y":5.5},{"s":2,"x":0.85,"y":7.5},{"s":2,"x":0.86,"y":9},{"s":2,"x":0.87,"y":10.5},{"s":2,"x":0.88,"y":11.5},{"s":2,"x":0.89,"y":12.5},{"s":2,"x":0.9,"y":12.8},{"s":2,"x":0.91,"y":11.5},{"s":2,"x":0.92,"y":9.5},{"s":2,"x":0.93,"y":8},{"s":2,"x":0.94,"y":6},{"s":2,"x":0.95,"y":4.5},{"s":2,"x":0.96,"y":2},{"s":2,"x":0.97,"y":1},{"s":2,"x":0.98,"y":0},{"s":2,"x":0.99,"y":-0.8},{"s":2,"x":1,"y":-1.3},
{"s":3,"x":0,"y":1.5},{"s":3,"x":0.01,"y":0.5},{"s":3,"x":0.02,"y":3.5},{"s":3,"x":0.03,"y":2},{"s":3,"x":0.04,"y":6.5},{"s":3,"x":0.05,"y":8.5},{"s":3,"x":0.06,"y":9},{"s":3,"x":0.07,"y":14},{"s":3,"x":0.08,"y":20},{"s":3,"x":0.085,"y":23},{"s":3,"x":0.09,"y":21},{"s":3,"x":0.1,"y":22.5},{"s":3,"x":0.11,"y":19},{"s":3,"x":0.12,"y":15.5},{"s":3,"x":0.13,"y":13.5},{"s":3,"x":0.14,"y":11},{"s":3,"x":0.15,"y":6.5},{"s":3,"x":0.16,"y":4},{"s":3,"x":0.17,"y":2},{"s":3,"x":0.18,"y":0},{"s":3,"x":0.19,"y":1},{"s":3,"x":0.2,"y":1},{"s":3,"x":0.21,"y":0.3},{"s":3,"x":0.22,"y":2},{"s":3,"x":0.23,"y":3},{"s":3,"x":0.24,"y":4.5},{"s":3,"x":0.25,"y":8},{"s":3,"x":0.26,"y":11},{"s":3,"x":0.27,"y":14},{"s":3,"x":0.28,"y":16},{"s":3,"x":0.29,"y":17.5},{"s":3,"x":0.3,"y":17.2},{"s":3,"x":0.31,"y":16.5},{"s":3,"x":0.32,"y":15},{"s":3,"x":0.33,"y":12},{"s":3,"x":0.34,"y":9},{"s":3,"x":0.35,"y":5},{"s":3,"x":0.36,"y":2.5},{"s":3,"x":0.37,"y":1.5},{"s":3,"x":0.38,"y":0.5},{"s":3,"x":0.39,"y":1},{"s":3,"x":0.4,"y":1.3},{"s":3,"x":0.41,"y":1},{"s":3,"x":0.42,"y":1},{"s":3,"x":0.43,"y":2},{"s":3,"x":0.44,"y":3},{"s":3,"x":0.45,"y":4},{"s":3,"x":0.46,"y":6},{"s":3,"x":0.47,"y":8},{"s":3,"x":0.48,"y":10.5},{"s":3,"x":0.49,"y":13},{"s":3,"x":0.5,"y":14.5},{"s":3,"x":0.51,"y":14},{"s":3,"x":0.52,"y":12.5},{"s":3,"x":0.53,"y":10.5},{"s":3,"x":0.54,"y":8},{"s":3,"x":0.55,"y":5},{"s":3,"x":0.56,"y":3},{"s":3,"x":0.57,"y":1.5},{"s":3,"x":0.58,"y":1},{"s":3,"x":0.59,"y":0.5},{"s":3,"x":0.6,"y":1},{"s":3,"x":0.61,"y":0.5},{"s":3,"x":0.62,"y":0.3},{"s":3,"x":0.63,"y":2},{"s":3,"x":0.64,"y":5},{"s":3,"x":0.65,"y":7},{"s":3,"x":0.66,"y":10},{"s":3,"x":0.67,"y":11.5},{"s":3,"x":0.68,"y":12.5},{"s":3,"x":0.69,"y":13},{"s":3,"x":0.7,"y":12},{"s":3,"x":0.71,"y":9.5},{"s":3,"x":0.72,"y":7.5},{"s":3,"x":0.73,"y":6},{"s":3,"x":0.74,"y":4},{"s":3,"x":0.75,"y":2.5},{"s":3,"x":0.76,"y":1.5},{"s":3,"x":0.77,"y":0.5},{"s":3,"x":0.78,"y":1},{"s":3,"x":0.79,"y":-0.5},{"s":3,"x":0.8,"y":-1.3},{"s":3,"x":0.81,"y":3.5},{"s":3,"x":0.82,"y":3.2},{"s":3,"x":0.83,"y":3.2},{"s":3,"x":0.84,"y":4},{"s":3,"x":0.85,"y":6.5},{"s":3,"x":0.86,"y":8.5},{"s":3,"x":0.87,"y":9},{"s":3,"x":0.88,"y":9.5},{"s":3,"x":0.89,"y":11.5},{"s":3,"x":0.9,"y":12.5},{"s":3,"x":0.91,"y":10},{"s":3,"x":0.92,"y":8.5},{"s":3,"x":0.93,"y":7},{"s":3,"x":0.94,"y":5},{"s":3,"x":0.95,"y":3},{"s":3,"x":0.96,"y":1.5},{"s":3,"x":0.97,"y":0},{"s":3,"x":0.98,"y":0.5},{"s":3,"x":0.99,"y":-0.3},{"s":3,"x":1,"y":-0.3},
{"s":4,"x":0,"y":-1.2},{"s":4,"x":0.01,"y":-0.9},{"s":4,"x":0.02,"y":1},{"s":4,"x":0.03,"y":1},{"s":4,"x":0.04,"y":5},{"s":4,"x":0.05,"y":6.5},{"s":4,"x":0.06,"y":8.5},{"s":4,"x":0.07,"y":12.5},{"s":4,"x":0.08,"y":17.5},{"s":4,"x":0.09,"y":20.5},{"s":4,"x":0.1,"y":23.5},{"s":4,"x":0.11,"y":21},{"s":4,"x":0.12,"y":15},{"s":4,"x":0.13,"y":13},{"s":4,"x":0.14,"y":10},{"s":4,"x":0.15,"y":5},{"s":4,"x":0.16,"y":3},{"s":4,"x":0.17,"y":1},{"s":4,"x":0.18,"y":-0.3},{"s":4,"x":0.19,"y":0},{"s":4,"x":0.2,"y":-0.3},{"s":4,"x":0.21,"y":2},{"s":4,"x":0.22,"y":4.5},{"s":4,"x":0.23,"y":5},{"s":4,"x":0.24,"y":8},{"s":4,"x":0.25,"y":11.5},{"s":4,"x":0.26,"y":13},{"s":4,"x":0.27,"y":16},{"s":4,"x":0.28,"y":17.5},{"s":4,"x":0.29,"y":18.5},{"s":4,"x":0.3,"y":18},{"s":4,"x":0.31,"y":17.5},{"s":4,"x":0.32,"y":15},{"s":4,"x":0.33,"y":11},{"s":4,"x":0.34,"y":8},{"s":4,"x":0.35,"y":4.5},{"s":4,"x":0.36,"y":2},{"s":4,"x":0.37,"y":0.5},{"s":4,"x":0.38,"y":-0.8},{"s":4,"x":0.39,"y":1},{"s":4,"x":0.4,"y":2.2},{"s":4,"x":0.41,"y":0.5},{"s":4,"x":0.42,"y":1},{"s":4,"x":0.43,"y":4.5},{"s":4,"x":0.44,"y":5.5},{"s":4,"x":0.45,"y":6.5},{"s":4,"x":0.46,"y":8.5},{"s":4,"x":0.47,"y":10.5},{"s":4,"x":0.48,"y":13},{"s":4,"x":0.49,"y":14.5},{"s":4,"x":0.5,"y":13.5},{"s":4,"x":0.51,"y":12.5},{"s":4,"x":0.52,"y":10},{"s":4,"x":0.53,"y":7},{"s":4,"x":0.54,"y":4.5},{"s":4,"x":0.55,"y":2},{"s":4,"x":0.56,"y":1.5},{"s":4,"x":0.57,"y":0.5},{"s":4,"x":0.58,"y":-0.6},{"s":4,"x":0.59,"y":1},{"s":4,"x":0.6,"y":0.8},{"s":4,"x":0.61,"y":0.5},{"s":4,"x":0.62,"y":1.5},{"s":4,"x":0.63,"y":3},{"s":4,"x":0.64,"y":5},{"s":4,"x":0.65,"y":8.5},{"s":4,"x":0.66,"y":10.5},{"s":4,"x":0.67,"y":12.5},{"s":4,"x":0.68,"y":14},{"s":4,"x":0.69,"y":13},{"s":4,"x":0.7,"y":12},{"s":4,"x":0.71,"y":10},{"s":4,"x":0.72,"y":8},{"s":4,"x":0.73,"y":5.5},{"s":4,"x":0.74,"y":3.5},{"s":4,"x":0.75,"y":2},{"s":4,"x":0.76,"y":0.5},{"s":4,"x":0.77,"y":0},{"s":4,"x":0.78,"y":0.8},{"s":4,"x":0.79,"y":-0.3},{"s":4,"x":0.8,"y":1.5},{"s":4,"x":0.81,"y":1.5},{"s":4,"x":0.82,"y":1.8},{"s":4,"x":0.83,"y":3.5},{"s":4,"x":0.84,"y":6.5},{"s":4,"x":0.85,"y":9},{"s":4,"x":0.86,"y":11},{"s":4,"x":0.87,"y":11},{"s":4,"x":0.88,"y":10.5},{"s":4,"x":0.89,"y":11.8},{"s":4,"x":0.9,"y":11},{"s":4,"x":0.91,"y":8},{"s":4,"x":0.92,"y":6.5},{"s":4,"x":0.93,"y":5.5},{"s":4,"x":0.94,"y":3.5},{"s":4,"x":0.95,"y":1.5},{"s":4,"x":0.96,"y":0.8},{"s":4,"x":0.97,"y":0.5},{"s":4,"x":0.98,"y":0},{"s":4,"x":0.99,"y":0.2},{"s":4,"x":1,"y":0.3},
{"s":5,"x":0,"y":1},{"s":5,"x":0.01,"y":-0.5},{"s":5,"x":0.02,"y":2.5},{"s":5,"x":0.03,"y":2.8},{"s":5,"x":0.04,"y":6.5},{"s":5,"x":0.05,"y":7},{"s":5,"x":0.06,"y":9.5},{"s":5,"x":0.07,"y":13},{"s":5,"x":0.08,"y":18},{"s":5,"x":0.09,"y":21.2},{"s":5,"x":0.1,"y":21},{"s":5,"x":0.105,"y":23},{"s":5,"x":0.11,"y":21},{"s":5,"x":0.12,"y":15},{"s":5,"x":0.13,"y":14},{"s":5,"x":0.14,"y":10.5},{"s":5,"x":0.15,"y":6},{"s":5,"x":0.16,"y":4},{"s":5,"x":0.17,"y":2.5},{"s":5,"x":0.18,"y":-0.5},{"s":5,"x":0.19,"y":2},{"s":5,"x":0.2,"y":1},{"s":5,"x":0.21,"y":2.5},{"s":5,"x":0.22,"y":2},{"s":5,"x":0.23,"y":3.5},{"s":5,"x":0.24,"y":4.5},{"s":5,"x":0.25,"y":9},{"s":5,"x":0.26,"y":12},{"s":5,"x":0.27,"y":15},{"s":5,"x":0.28,"y":17},{"s":5,"x":0.29,"y":18.5},{"s":5,"x":0.3,"y":17.5},{"s":5,"x":0.31,"y":18},{"s":5,"x":0.32,"y":16},{"s":5,"x":0.33,"y":11},{"s":5,"x":0.34,"y":9},{"s":5,"x":0.35,"y":5},{"s":5,"x":0.36,"y":3},{"s":5,"x":0.37,"y":1.5},{"s":5,"x":0.38,"y":-0.3},{"s":5,"x":0.39,"y":1.5},{"s":5,"x":0.4,"y":1},{"s":5,"x":0.41,"y":0.5},{"s":5,"x":0.42,"y":0},{"s":5,"x":0.43,"y":2},{"s":5,"x":0.44,"y":4},{"s":5,"x":0.45,"y":4.5},{"s":5,"x":0.46,"y":7},{"s":5,"x":0.47,"y":10},{"s":5,"x":0.48,"y":13},{"s":5,"x":0.49,"y":15.5},{"s":5,"x":0.5,"y":18.2},{"s":5,"x":0.51,"y":15.5},{"s":5,"x":0.52,"y":14},{"s":5,"x":0.53,"y":11},{"s":5,"x":0.54,"y":8.5},{"s":5,"x":0.55,"y":6},{"s":5,"x":0.56,"y":4},{"s":5,"x":0.57,"y":2},{"s":5,"x":0.58,"y":0.8},{"s":5,"x":0.59,"y":0},{"s":5,"x":0.6,"y":0.3},{"s":5,"x":0.61,"y":0},{"s":5,"x":0.62,"y":1},{"s":5,"x":0.63,"y":4.5},{"s":5,"x":0.64,"y":6.5},{"s":5,"x":0.65,"y":8.5},{"s":5,"x":0.66,"y":13},{"s":5,"x":0.67,"y":11},{"s":5,"x":0.68,"y":13},{"s":5,"x":0.69,"y":15.8},{"s":5,"x":0.7,"y":14.5},{"s":5,"x":0.71,"y":13.5},{"s":5,"x":0.72,"y":10},{"s":5,"x":0.73,"y":8},{"s":5,"x":0.74,"y":5},{"s":5,"x":0.75,"y":3},{"s":5,"x":0.76,"y":1.5},{"s":5,"x":0.77,"y":0.8},{"s":5,"x":0.78,"y":-0.8},{"s":5,"x":0.79,"y":0.3},{"s":5,"x":0.8,"y":1.8},{"s":5,"x":0.81,"y":2},{"s":5,"x":0.82,"y":1.8},{"s":5,"x":0.83,"y":2.5},{"s":5,"x":0.84,"y":4.5},{"s":5,"x":0.85,"y":7.5},{"s":5,"x":0.86,"y":9.5},{"s":5,"x":0.87,"y":11.8},{"s":5,"x":0.88,"y":11},{"s":5,"x":0.89,"y":11},{"s":5,"x":0.9,"y":12},{"s":5,"x":0.91,"y":10},{"s":5,"x":0.92,"y":8},{"s":5,"x":0.93,"y":6.5},{"s":5,"x":0.94,"y":5},{"s":5,"x":0.95,"y":3},{"s":5,"x":0.96,"y":1},{"s":5,"x":0.97,"y":-1},{"s":5,"x":0.98,"y":1.5},{"s":5,"x":0.99,"y":0.5},{"s":5,"x":1,"y":1.5}
],
"cdots": [{"x":0.5,"y":17.2},{"x":0.506,"y":16.6},{"x":0.495,"y":15.8},{"x":0.506,"y":14.6},{"x":0.5,"y":16.4}],
"d": [{"lam":0,"err":472.5},{"lam":11.111,"err":425.4},{"lam":22.222,"err":428.9},{"lam":33.333,"err":414.5},{"lam":44.444,"err":412.3},{"lam":55.556,"err":407.5},{"lam":66.667,"err":410.7},{"lam":77.778,"err":412.5},{"lam":88.889,"err":408.1},{"lam":100,"err":419.5}],
"e": [
{"s":1,"x":0,"y":0},{"s":1,"x":0.02,"y":0.016},{"s":1,"x":0.05,"y":0.021},{"s":1,"x":0.068,"y":0.072},{"s":1,"x":0.082,"y":0.128},{"s":1,"x":0.095,"y":0.145},{"s":1,"x":0.126,"y":0.156},{"s":1,"x":0.161,"y":0.167},{"s":1,"x":0.197,"y":0.19},{"s":1,"x":0.25,"y":0.206},{"s":1,"x":0.277,"y":0.229},{"s":1,"x":0.321,"y":0.251},{"s":1,"x":0.348,"y":0.274},{"s":1,"x":0.392,"y":0.285},{"s":1,"x":0.428,"y":0.296},{"s":1,"x":0.454,"y":0.307},{"s":1,"x":0.481,"y":0.336},{"s":1,"x":0.516,"y":0.38},{"s":1,"x":0.561,"y":0.409},{"s":1,"x":0.605,"y":0.453},{"s":1,"x":0.65,"y":0.498},{"s":1,"x":0.694,"y":0.566},{"s":1,"x":0.729,"y":0.622},{"s":1,"x":0.765,"y":0.689},{"s":1,"x":0.783,"y":0.7},{"s":1,"x":0.8,"y":0.734},{"s":1,"x":0.827,"y":0.74},{"s":1,"x":0.871,"y":0.747},{"s":1,"x":0.916,"y":0.753},{"s":1,"x":0.933,"y":0.79},{"s":1,"x":0.951,"y":0.857},{"s":1,"x":0.969,"y":0.886},{"s":1,"x":0.982,"y":0.914},{"s":1,"x":0.991,"y":0.958},{"s":1,"x":1,"y":1},
{"s":2,"x":0,"y":0},{"s":2,"x":0.05,"y":0.01},{"s":2,"x":0.064,"y":0.038},{"s":2,"x":0.082,"y":0.083},{"s":2,"x":0.117,"y":0.111},{"s":2,"x":0.161,"y":0.122},{"s":2,"x":0.206,"y":0.139},{"s":2,"x":0.25,"y":0.15},{"s":2,"x":0.295,"y":0.162},{"s":2,"x":0.321,"y":0.173},{"s":2,"x":0.357,"y":0.19},{"s":2,"x":0.41,"y":0.201},{"s":2,"x":0.437,"y":0.212},{"s":2,"x":0.481,"y":0.246},{"s":2,"x":0.516,"y":0.274},{"s":2,"x":0.561,"y":0.296},{"s":2,"x":0.596,"y":0.33},{"s":2,"x":0.632,"y":0.341},{"s":2,"x":0.645,"y":0.364},{"s":2,"x":0.658,"y":0.397},{"s":2,"x":0.694,"y":0.42},{"s":2,"x":0.72,"y":0.465},{"s":2,"x":0.747,"y":0.498},{"s":2,"x":0.774,"y":0.577},{"s":2,"x":0.8,"y":0.644},{"s":2,"x":0.818,"y":0.678},{"s":2,"x":0.836,"y":0.756},{"s":2,"x":0.862,"y":0.779},{"s":2,"x":0.88,"y":0.841},{"s":2,"x":0.889,"y":0.846},{"s":2,"x":0.898,"y":0.897},{"s":2,"x":0.925,"y":0.936},{"s":2,"x":0.96,"y":0.964},{"s":2,"x":1,"y":1},
{"s":3,"x":0,"y":0},{"s":3,"x":0.055,"y":0.061},{"s":3,"x":0.099,"y":0.105},{"s":3,"x":0.144,"y":0.15},{"s":3,"x":0.188,"y":0.195},{"s":3,"x":0.25,"y":0.263},{"s":3,"x":0.295,"y":0.308},{"s":3,"x":0.339,"y":0.352},{"s":3,"x":0.383,"y":0.397},{"s":3,"x":0.428,"y":0.437},{"s":3,"x":0.472,"y":0.476},{"s":3,"x":0.516,"y":0.526},{"s":3,"x":0.561,"y":0.566},{"s":3,"x":0.605,"y":0.611},{"s":3,"x":0.65,"y":0.655},{"s":3,"x":0.694,"y":0.7},{"s":3,"x":0.738,"y":0.745},{"s":3,"x":0.783,"y":0.785},{"s":3,"x":0.827,"y":0.829},{"s":3,"x":0.871,"y":0.874},{"s":3,"x":0.916,"y":0.919},{"s":3,"x":0.96,"y":0.97},{"s":3,"x":1,"y":1},
{"s":4,"x":0,"y":0},{"s":4,"x":0.037,"y":0.01},{"s":4,"x":0.073,"y":0.033},{"s":4,"x":0.099,"y":0.049},{"s":4,"x":0.135,"y":0.066},{"s":4,"x":0.161,"y":0.077},{"s":4,"x":0.188,"y":0.105},{"s":4,"x":0.206,"y":0.134},{"s":4,"x":0.241,"y":0.156},{"s":4,"x":0.277,"y":0.184},{"s":4,"x":0.312,"y":0.212},{"s":4,"x":0.339,"y":0.235},{"s":4,"x":0.383,"y":0.268},{"s":4,"x":0.419,"y":0.296},{"s":4,"x":0.445,"y":0.319},{"s":4,"x":0.463,"y":0.341},{"s":4,"x":0.499,"y":0.375},{"s":4,"x":0.525,"y":0.42},{"s":4,"x":0.552,"y":0.442},{"s":4,"x":0.596,"y":0.476},{"s":4,"x":0.623,"y":0.532},{"s":4,"x":0.658,"y":0.56},{"s":4,"x":0.694,"y":0.594},{"s":4,"x":0.729,"y":0.639},{"s":4,"x":0.765,"y":0.678},{"s":4,"x":0.8,"y":0.734},{"s":4,"x":0.836,"y":0.785},{"s":4,"x":0.862,"y":0.807},{"s":4,"x":0.889,"y":0.852},{"s":4,"x":0.916,"y":0.874},{"s":4,"x":0.938,"y":0.902},{"s":4,"x":0.96,"y":0.958},{"s":4,"x":0.982,"y":0.981},{"s":4,"x":1,"y":1},
{"s":5,"x":0,"y":0},{"s":5,"x":0.046,"y":0.01},{"s":5,"x":0.073,"y":0.027},{"s":5,"x":0.108,"y":0.038},{"s":5,"x":0.153,"y":0.049},{"s":5,"x":0.188,"y":0.066},{"s":5,"x":0.224,"y":0.094},{"s":5,"x":0.25,"y":0.1},{"s":5,"x":0.277,"y":0.117},{"s":5,"x":0.321,"y":0.145},{"s":5,"x":0.357,"y":0.167},{"s":5,"x":0.383,"y":0.19},{"s":5,"x":0.41,"y":0.195},{"s":5,"x":0.437,"y":0.229},{"s":5,"x":0.472,"y":0.24},{"s":5,"x":0.508,"y":0.296},{"s":5,"x":0.534,"y":0.307},{"s":5,"x":0.57,"y":0.341},{"s":5,"x":0.605,"y":0.369},{"s":5,"x":0.641,"y":0.397},{"s":5,"x":0.658,"y":0.431},{"s":5,"x":0.685,"y":0.453},{"s":5,"x":0.712,"y":0.498},{"s":5,"x":0.738,"y":0.521},{"s":5,"x":0.774,"y":0.566},{"s":5,"x":0.791,"y":0.622},{"s":5,"x":0.827,"y":0.667},{"s":5,"x":0.845,"y":0.695},{"s":5,"x":0.862,"y":0.745},{"s":5,"x":0.88,"y":0.779},{"s":5,"x":0.907,"y":0.801},{"s":5,"x":0.925,"y":0.824},{"s":5,"x":0.942,"y":0.897},{"s":5,"x":0.96,"y":0.93},{"s":5,"x":0.987,"y":0.958},{"s":5,"x":1,"y":0.992}
],
"f": [
{"s":1,"x":0,"y":0},{"s":1,"x":0.04,"y":0.043},{"s":1,"x":0.08,"y":0.082},{"s":1,"x":0.12,"y":0.123},{"s":1,"x":0.16,"y":0.158},{"s":1,"x":0.2,"y":0.2},{"s":1,"x":0.24,"y":0.243},{"s":1,"x":0.28,"y":0.282},{"s":1,"x":0.32,"y":0.318},{"s":1,"x":0.36,"y":0.362},{"s":1,"x":0.4,"y":0.406},{"s":1,"x":0.44,"y":0.443},{"s":1,"x":0.48,"y":0.485},{"s":1,"x":0.52,"y":0.52},{"s":1,"x":0.56,"y":0.562},{"s":1,"x":0.6,"y":0.605},{"s":1,"x":0.64,"y":0.64},{"s":1,"x":0.68,"y":0.682},{"s":1,"x":0.72,"y":0.72},{"s":1,"x":0.76,"y":0.758},{"s":1,"x":0.8,"y":0.8},{"s":1,"x":0.84,"y":0.838},{"s":1,"x":0.88,"y":0.886},{"s":1,"x":0.92,"y":0.915},{"s":1,"x":0.96,"y":0.958},{"s":1,"x":1,"y":1},
{"s":2,"x":0,"y":0},{"s":2,"x":0.04,"y":0.04},{"s":2,"x":0.08,"y":0.085},{"s":2,"x":0.12,"y":0.119},{"s":2,"x":0.16,"y":0.16},{"s":2,"x":0.2,"y":0.2},{"s":2,"x":0.24,"y":0.241},{"s":2,"x":0.28,"y":0.28},{"s":2,"x":0.32,"y":0.322},{"s":2,"x":0.36,"y":0.36},{"s":2,"x":0.4,"y":0.398},{"s":2,"x":0.44,"y":0.442},{"s":2,"x":0.48,"y":0.48},{"s":2,"x":0.52,"y":0.524},{"s":2,"x":0.56,"y":0.56},{"s":2,"x":0.6,"y":0.6},{"s":2,"x":0.64,"y":0.643},{"s":2,"x":0.68,"y":0.68},{"s":2,"x":0.72,"y":0.718},{"s":2,"x":0.76,"y":0.76},{"s":2,"x":0.8,"y":0.8},{"s":2,"x":0.84,"y":0.842},{"s":2,"x":0.88,"y":0.88},{"s":2,"x":0.92,"y":0.91},{"s":2,"x":0.96,"y":0.96},{"s":2,"x":1,"y":1},
{"s":3,"x":0,"y":0},{"s":3,"x":0.04,"y":0.038},{"s":3,"x":0.08,"y":0.08},{"s":3,"x":0.12,"y":0.12},{"s":3,"x":0.16,"y":0.16},{"s":3,"x":0.2,"y":0.198},{"s":3,"x":0.24,"y":0.24},{"s":3,"x":0.28,"y":0.279},{"s":3,"x":0.32,"y":0.32},{"s":3,"x":0.36,"y":0.36},{"s":3,"x":0.4,"y":0.396},{"s":3,"x":0.44,"y":0.44},{"s":3,"x":0.48,"y":0.48},{"s":3,"x":0.52,"y":0.52},{"s":3,"x":0.56,"y":0.56},{"s":3,"x":0.6,"y":0.6},{"s":3,"x":0.64,"y":0.64},{"s":3,"x":0.68,"y":0.68},{"s":3,"x":0.72,"y":0.72},{"s":3,"x":0.76,"y":0.762},{"s":3,"x":0.8,"y":0.8},{"s":3,"x":0.84,"y":0.84},{"s":3,"x":0.88,"y":0.88},{"s":3,"x":0.92,"y":0.922},{"s":3,"x":0.96,"y":0.962},{"s":3,"x":1,"y":1},
{"s":4,"x":0,"y":0},{"s":4,"x":0.04,"y":0.048},{"s":4,"x":0.08,"y":0.08},{"s":4,"x":0.12,"y":0.122},{"s":4,"x":0.16,"y":0.16},{"s":4,"x":0.18,"y":0.19},{"s":4,"x":0.2,"y":0.2},{"s":4,"x":0.24,"y":0.24},{"s":4,"x":0.28,"y":0.28},{"s":4,"x":0.32,"y":0.32},{"s":4,"x":0.36,"y":0.358},{"s":4,"x":0.41,"y":0.4},{"s":4,"x":0.44,"y":0.445},{"s":4,"x":0.48,"y":0.478},{"s":4,"x":0.52,"y":0.52},{"s":4,"x":0.56,"y":0.56},{"s":4,"x":0.6,"y":0.598},{"s":4,"x":0.64,"y":0.64},{"s":4,"x":0.68,"y":0.68},{"s":4,"x":0.72,"y":0.722},{"s":4,"x":0.76,"y":0.758},{"s":4,"x":0.8,"y":0.8},{"s":4,"x":0.84,"y":0.84},{"s":4,"x":0.88,"y":0.878},{"s":4,"x":0.92,"y":0.918},{"s":4,"x":0.96,"y":0.955},{"s":4,"x":0.98,"y":0.975},{"s":4,"x":1,"y":1},
{"s":5,"x":0,"y":0},{"s":5,"x":0.04,"y":0.042},{"s":5,"x":0.08,"y":0.078},{"s":5,"x":0.12,"y":0.12},{"s":5,"x":0.16,"y":0.157},{"s":5,"x":0.2,"y":0.202},{"s":5,"x":0.24,"y":0.24},{"s":5,"x":0.28,"y":0.281},{"s":5,"x":0.32,"y":0.32},{"s":5,"x":0.36,"y":0.362},{"s":5,"x":0.4,"y":0.396},{"s":5,"x":0.44,"y":0.442},{"s":5,"x":0.48,"y":0.48},{"s":5,"x":0.52,"y":0.518},{"s":5,"x":0.56,"y":0.562},{"s":5,"x":0.6,"y":0.6},{"s":5,"x":0.64,"y":0.64},{"s":5,"x":0.68,"y":0.681},{"s":5,"x":0.72,"y":0.72},{"s":5,"x":0.76,"y":0.76},{"s":5,"x":0.8,"y":0.8},{"s":5,"x":0.84,"y":0.84},{"s":5,"x":0.88,"y":0.882},{"s":5,"x":0.92,"y":0.918},{"s":5,"x":0.96,"y":0.96},{"s":5,"x":1,"y":1}
]
},
"vconcat": [
{
"hconcat": [
{
 "width": 376, "height": 298,
 "title": {"text": "(a) Raw Simulated Functions", "orient": "bottom", "frame": "group", "offset": 23, "dx": -2},
 "layer": [
  {"data": {"name": "a"}, "mark": {"type": "line", "strokeWidth": 2.3},
   "encoding": {
    "x": {"field": "x", "type": "quantitative", "scale": {"domain": [0, 1], "nice": false}, "axis": {"orient": "bottom", "values": [0, 0.2, 0.4, 0.6, 0.8, 1], "labelExpr": "'' + datum.value", "title": null}},
    "y": {"field": "y", "type": "quantitative", "scale": {"domain": [-5, 30], "nice": false, "zero": false}, "axis": {"orient": "left", "values": [-5, 0, 5, 10, 15, 20, 25, 30], "labelExpr": "'' + datum.value", "title": null, "minExtent": 33, "maxExtent": 33}},
    "color": {"field": "s", "type": "nominal", "scale": {"domain": [1, 2, 3, 4, 5], "range": ["#0072BD", "#D95319", "#EDB120", "#7E2F8E", "#77AC30"]}, "legend": null}
   }},
  {"data": {"name": "adots"}, "mark": {"type": "circle", "color": "#00FF00", "size": 100, "opacity": 1},
   "encoding": {
    "x": {"field": "x", "type": "quantitative", "axis": {"orient": "top", "labels": false, "values": [0, 0.2, 0.4, 0.6, 0.8, 1], "title": null, "minExtent": 0, "maxExtent": 0}},
    "y": {"field": "y", "type": "quantitative", "axis": {"orient": "right", "labels": false, "values": [-5, 0, 5, 10, 15, 20, 25, 30], "title": null, "minExtent": 0, "maxExtent": 0}}
   }}
 ],
 "resolve": {"axis": {"x": "independent", "y": "independent"}}
},
{
 "width": 379, "height": 298,
 "title": {"text": "(b) Unconstrained Alignment", "orient": "bottom", "frame": "group", "offset": 23, "dx": -13},
 "layer": [
  {"data": {"name": "b"}, "mark": {"type": "line", "strokeWidth": 2.3},
   "encoding": {
    "x": {"field": "x", "type": "quantitative", "scale": {"domain": [0, 1], "nice": false}, "axis": {"orient": "bottom", "values": [0, 0.2, 0.4, 0.6, 0.8, 1], "labelExpr": "'' + datum.value", "title": null}},
    "y": {"field": "y", "type": "quantitative", "scale": {"domain": [-5, 25], "nice": false, "zero": false}, "axis": {"orient": "left", "values": [-5, 0, 5, 10, 15, 20, 25], "labelExpr": "'' + datum.value", "title": null, "minExtent": 39, "maxExtent": 39}},
    "color": {"field": "s", "type": "nominal", "scale": {"domain": [1, 2, 3, 4, 5], "range": ["#0072BD", "#D95319", "#EDB120", "#7E2F8E", "#77AC30"]}, "legend": null}
   }},
  {"data": {"name": "bdots"}, "mark": {"type": "circle", "color": "#00FF00", "size": 100, "opacity": 1},
   "encoding": {
    "x": {"field": "x", "type": "quantitative", "axis": {"orient": "top", "labels": false, "values": [0, 0.2, 0.4, 0.6, 0.8, 1], "title": null, "minExtent": 0, "maxExtent": 0}},
    "y": {"field": "y", "type": "quantitative", "axis": {"orient": "right", "labels": false, "values": [-5, 0, 5, 10, 15, 20, 25], "title": null, "minExtent": 0, "maxExtent": 0}}
   }}
 ],
 "resolve": {"axis": {"x": "independent", "y": "independent"}}
},
{
 "width": 380, "height": 298,
 "title": {"text": "(c) Soft Alignment, λ = 88.8889", "orient": "bottom", "frame": "group", "offset": 23, "dx": -13},
 "layer": [
  {"data": {"name": "c"}, "mark": {"type": "line", "strokeWidth": 2.3},
   "encoding": {
    "x": {"field": "x", "type": "quantitative", "scale": {"domain": [0, 1], "nice": false}, "axis": {"orient": "bottom", "values": [0, 0.2, 0.4, 0.6, 0.8, 1], "labelExpr": "'' + datum.value", "title": null}},
    "y": {"field": "y", "type": "quantitative", "scale": {"domain": [-5, 30], "nice": false, "zero": false}, "axis": {"orient": "left", "values": [-5, 0, 5, 10, 15, 20, 25, 30], "labelExpr": "'' + datum.value", "title": null, "minExtent": 39, "maxExtent": 39}},
    "color": {"field": "s", "type": "nominal", "scale": {"domain": [1, 2, 3, 4, 5], "range": ["#0072BD", "#D95319", "#EDB120", "#7E2F8E", "#77AC30"]}, "legend": null}
   }},
  {"data": {"name": "cdots"}, "mark": {"type": "circle", "color": "#00FF00", "size": 100, "opacity": 1},
   "encoding": {
    "x": {"field": "x", "type": "quantitative", "axis": {"orient": "top", "labels": false, "values": [0, 0.2, 0.4, 0.6, 0.8, 1], "title": null, "minExtent": 0, "maxExtent": 0}},
    "y": {"field": "y", "type": "quantitative", "axis": {"orient": "right", "labels": false, "values": [-5, 0, 5, 10, 15, 20, 25, 30], "title": null, "minExtent": 0, "maxExtent": 0}}
   }}
 ],
 "resolve": {"axis": {"x": "independent", "y": "independent"}}
}
],
"spacing": 3
},
{
"hconcat": [
{
 "width": 366, "height": 277,
 "title": {"text": "(d) LOOCV Shape Error", "orient": "bottom", "frame": "group", "offset": 24, "dx": -10},
 "data": {"name": "d"},
 "layer": [
  {"mark": {"type": "line", "strokeWidth": 2.3, "color": "#0072BD"},
   "encoding": {
    "x": {"field": "lam", "type": "quantitative", "scale": {"domain": [0, 100], "nice": false}, "axis": {"orient": "bottom", "values": [0, 20, 40, 60, 80, 100], "title": "λ", "titleFont": "DejaVu Serif", "titleFontStyle": "italic", "titleFontWeight": "normal", "titleFontSize": 15, "titleColor": "#262626", "titlePadding": 3}},
    "y": {"field": "err", "type": "quantitative", "scale": {"domain": [400, 480], "nice": false, "zero": false}, "axis": {"orient": "left", "values": [400, 420, 440, 460, 480], "title": null, "minExtent": 33, "maxExtent": 33}}
   }},
  {"mark": {"type": "circle", "color": "#0072BD", "size": 48, "opacity": 1},
   "encoding": {
    "x": {"field": "lam", "type": "quantitative", "axis": {"orient": "top", "labels": false, "values": [0, 20, 40, 60, 80, 100], "title": null, "minExtent": 0, "maxExtent": 0}},
    "y": {"field": "err", "type": "quantitative", "axis": {"orient": "right", "labels": false, "values": [400, 420, 440, 460, 480], "title": null, "minExtent": 0, "maxExtent": 0}}
   }}
 ],
 "resolve": {"axis": {"x": "independent", "y": "independent"}}
},
{
 "width": 376, "height": 297,
 "title": {"text": "(e) Hard Registration Warpings", "orient": "bottom", "frame": "group", "offset": 23, "dx": -8},
 "data": {"name": "e"},
 "layer": [
  {"mark": {"type": "line", "strokeWidth": 2.3},
   "encoding": {
    "x": {"field": "x", "type": "quantitative", "scale": {"domain": [0, 1], "nice": false}, "axis": {"orient": "bottom", "values": [0, 0.2, 0.4, 0.6, 0.8, 1], "labelExpr": "'' + datum.value", "title": null}},
    "y": {"field": "y", "type": "quantitative", "scale": {"domain": [0, 1], "nice": false}, "axis": {"orient": "left", "values": [0, 0.2, 0.4, 0.6, 0.8, 1], "labelExpr": "'' + datum.value", "title": null, "minExtent": 47, "maxExtent": 47}},
    "color": {"field": "s", "type": "nominal", "scale": {"domain": [1, 2, 3, 4, 5], "range": ["#0072BD", "#D95319", "#EDB120", "#7E2F8E", "#77AC30"]}, "legend": null}
   }},
  {"mark": {"type": "line", "strokeWidth": 2, "opacity": 0},
   "encoding": {
    "x": {"field": "x", "type": "quantitative", "axis": {"orient": "top", "labels": false, "values": [0, 0.2, 0.4, 0.6, 0.8, 1], "title": null, "minExtent": 0, "maxExtent": 0}},
    "y": {"field": "y", "type": "quantitative", "axis": {"orient": "right", "labels": false, "values": [0, 0.2, 0.4, 0.6, 0.8, 1], "title": null, "minExtent": 0, "maxExtent": 0}},
    "detail": {"field": "s"}
   }}
 ],
 "resolve": {"axis": {"x": "independent", "y": "independent"}}
},
{
 "width": 376, "height": 297,
 "title": {"text": "(f) Additional Warping, λ = 88.8889", "orient": "bottom", "frame": "group", "offset": 23, "dx": -10},
 "data": {"name": "f"},
 "layer": [
  {"mark": {"type": "line", "strokeWidth": 2.3},
   "encoding": {
    "x": {"field": "x", "type": "quantitative", "scale": {"domain": [0, 1], "nice": false}, "axis": {"orient": "bottom", "values": [0, 0.2, 0.4, 0.6, 0.8, 1], "labelExpr": "'' + datum.value", "title": null}},
    "y": {"field": "y", "type": "quantitative", "scale": {"domain": [0, 1], "nice": false}, "axis": {"orient": "left", "values": [0, 0.2, 0.4, 0.6, 0.8, 1], "labelExpr": "'' + datum.value", "title": null, "minExtent": 42, "maxExtent": 42}},
    "color": {"field": "s", "type": "nominal", "scale": {"domain": [1, 2, 3, 4, 5], "range": ["#0072BD", "#D95319", "#EDB120", "#7E2F8E", "#77AC30"]}, "legend": null}
   }},
  {"mark": {"type": "line", "strokeWidth": 2, "opacity": 0},
   "encoding": {
    "x": {"field": "x", "type": "quantitative", "axis": {"orient": "top", "labels": false, "values": [0, 0.2, 0.4, 0.6, 0.8, 1], "title": null, "minExtent": 0, "maxExtent": 0}},
    "y": {"field": "y", "type": "quantitative", "axis": {"orient": "right", "labels": false, "values": [0, 0.2, 0.4, 0.6, 0.8, 1], "title": null, "minExtent": 0, "maxExtent": 0}},
    "detail": {"field": "s"}
   }}
 ],
 "resolve": {"axis": {"x": "independent", "y": "independent"}}
}
],
"spacing": 2
}
],
"spacing": 37
}
